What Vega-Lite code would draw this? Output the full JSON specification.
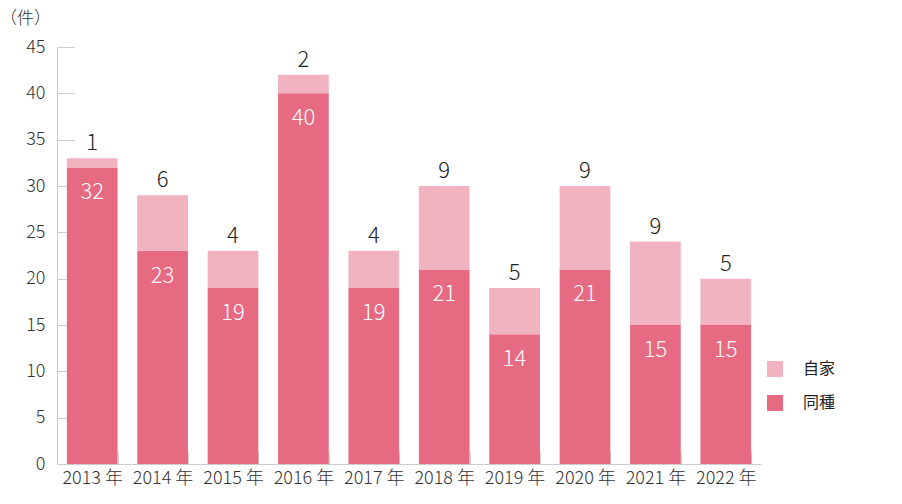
{
  "$schema": "https://vega.github.io/schema/vega-lite/v6.json",
  "width": 704,
  "height": 417,
  "autosize": {"type": "none"},
  "padding": {"left": 57, "top": 47, "right": 141, "bottom": 40},
  "background": "white",
  "config": {
    "view": {"stroke": null},
    "font": "Noto Sans CJK JP",
    "axis": {"grid": false, "domainColor": "#cccccc", "tickColor": "#cccccc", "labelColor": "#333333", "labelFontSize": 18, "labelFont": "Noto Sans CJK JP", "labelFontWeight": 300}
  },
  "data": {
    "values": [
      {"year": "2013 年", "type": "同種", "value": 32},
      {"year": "2013 年", "type": "自家", "value": 1},
      {"year": "2014 年", "type": "同種", "value": 23},
      {"year": "2014 年", "type": "自家", "value": 6},
      {"year": "2015 年", "type": "同種", "value": 19},
      {"year": "2015 年", "type": "自家", "value": 4},
      {"year": "2016 年", "type": "同種", "value": 40},
      {"year": "2016 年", "type": "自家", "value": 2},
      {"year": "2017 年", "type": "同種", "value": 19},
      {"year": "2017 年", "type": "自家", "value": 4},
      {"year": "2018 年", "type": "同種", "value": 21},
      {"year": "2018 年", "type": "自家", "value": 9},
      {"year": "2019 年", "type": "同種", "value": 14},
      {"year": "2019 年", "type": "自家", "value": 5},
      {"year": "2020 年", "type": "同種", "value": 21},
      {"year": "2020 年", "type": "自家", "value": 9},
      {"year": "2021 年", "type": "同種", "value": 15},
      {"year": "2021 年", "type": "自家", "value": 9},
      {"year": "2022 年", "type": "同種", "value": 15},
      {"year": "2022 年", "type": "自家", "value": 5}
    ]
  },
  "encoding": {
    "x": {
      "field": "year", "type": "nominal", "sort": null,
      "scale": {"paddingInner": 0.28, "paddingOuter": 0.14},
      "axis": {"title": null, "labelAngle": 0, "tickBand": "extent", "tickSize": -12, "labelPadding": 17}
    }
  },
  "layer": [
    {
      "mark": {"type": "bar"},
      "encoding": {
        "y": {
          "field": "value", "type": "quantitative", "stack": "zero",
          "scale": {"domain": [0, 45]},
          "axis": {"values": [0,5,10,15,20,25,30,35,40,45], "tickSize": -17, "labelPadding": 29, "title": "（件）", "titleAngle": 0, "titleX": -32, "titleY": -29, "titleAlign": "center", "titleBaseline": "middle", "titleFontSize": 17, "titleFontWeight": 300, "titleColor": "#333333"}
        },
        "color": {
          "field": "type", "type": "nominal",
          "scale": {"domain": ["自家", "同種"], "range": ["#f2b3c1", "#e56a82"]},
          "legend": {"title": null, "orient": "none", "legendX": 710, "legendY": 314, "symbolType": "square", "symbolSize": 256, "symbolStrokeWidth": 0, "labelFontSize": 16, "labelColor": "#222222", "labelOffset": 20, "rowPadding": 18}
        },
        "order": {"field": "type", "sort": "ascending"}
      }
    },
    {
      "transform": [{"filter": "datum.type === '同種'"}],
      "mark": {"type": "text", "color": "white", "fontSize": 22, "fontWeight": 300, "dy": 25, "baseline": "middle"},
      "encoding": {
        "y": {"field": "value", "type": "quantitative"},
        "text": {"field": "value"}
      }
    },
    {
      "transform": [
        {"joinaggregate": [{"op": "sum", "field": "value", "as": "total"}], "groupby": ["year"]},
        {"filter": "datum.type === '自家'"}
      ],
      "mark": {"type": "text", "color": "#222222", "fontSize": 22, "fontWeight": 300, "dy": -15, "baseline": "middle"},
      "encoding": {
        "y": {"field": "total", "type": "quantitative"},
        "text": {"field": "value"}
      }
    }
  ]
}
